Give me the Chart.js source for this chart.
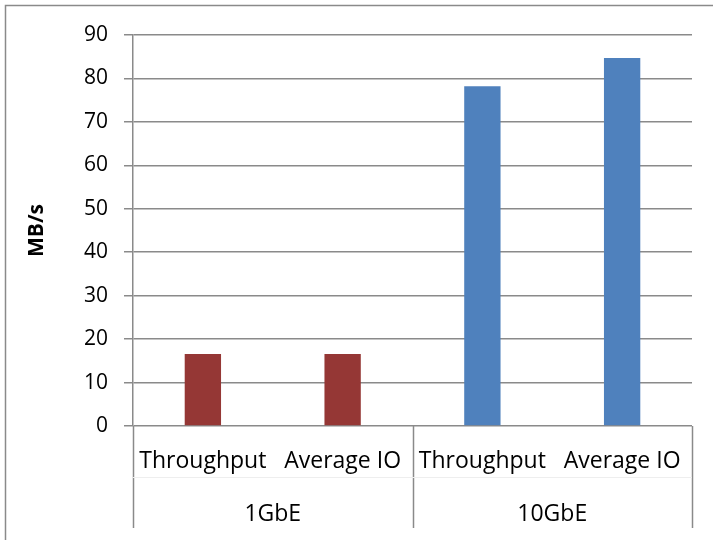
<!DOCTYPE html>
<html>
<head>
<meta charset="utf-8">
<script src="https://cdn.jsdelivr.net/npm/chart.js@4"></script>
<style>
html, body { margin: 0; padding: 0; background: #fff; }
#wrap { width: 713px; height: 540px; }
</style>
</head>
<body>
<div id="wrap"><canvas id="chart"></canvas></div>
<script>
// Data
const groups = ['1GbE', '10GbE'];
const metrics = ['Throughput', 'Average IO'];
const throughput = [16.6, 78.2];
const averageIO = [16.6, 84.7];
const groupColors = ['#953735', '#4F81BD'];
const yMax = 90;
const yStep = 10;

// flatten groups -> one bar per metric
const labels = [];
const values = [];
const colors = [];
groups.forEach((g, i) => {
    labels.push(...metrics);
    values.push(throughput[i], averageIO[i]);
    colors.push(groupColors[i], groupColors[i]);
});

const gridColor = '#8a8a8a';
const fontFamily = '"Open Sans", sans-serif';

// outer frame of the chart box
const framePlugin = {
    id: 'frame',
    beforeDraw(chart) {
        const ctx = chart.ctx;
        ctx.save();
        ctx.strokeStyle = '#8a8a8a';
        ctx.lineWidth = 1.5;
        ctx.strokeRect(5.5, 5.5, chart.width + 20, chart.height + 20);
        ctx.restore();
    }
};

// vertical separators between category groups + faint level divider
const groupLinesPlugin = {
    id: 'groupLines',
    afterDraw(chart) {
        const x = chart.scales.x;
        const x2 = chart.scales.x2;
        const ctx = chart.ctx;
        const top = chart.chartArea.bottom;
        const bottom = x2.bottom;
        const per = metrics.length;
        const xs = [x.left, x.right];
        for (let i = 1; i < groups.length; i++) {
            xs.push((x.getPixelForValue(i * per - 1) + x.getPixelForValue(i * per)) / 2);
        }
        ctx.save();
        ctx.strokeStyle = gridColor;
        ctx.lineWidth = 1.5;
        xs.forEach(px => {
            ctx.beginPath();
            ctx.moveTo(Math.round(px) + 0.5, top);
            ctx.lineTo(Math.round(px) + 0.5, bottom);
            ctx.stroke();
        });
        ctx.strokeStyle = '#eeeeee';
        ctx.lineWidth = 1;
        ctx.beginPath();
        ctx.moveTo(x.left, Math.round(x.bottom) + 0.5);
        ctx.lineTo(x.right, Math.round(x.bottom) + 0.5);
        ctx.stroke();
        ctx.restore();
    }
};

const ctx = document.getElementById('chart').getContext('2d');
const chart = new Chart(ctx, {
    type: 'bar',
    data: {
        labels: labels,
        datasets: [{
            data: values,
            backgroundColor: colors,
            borderWidth: 0,
            barPercentage: 0.26,
            categoryPercentage: 1.0
        }]
    },
    options: {
        responsive: true,
        maintainAspectRatio: false,
        animation: false,
        layout: { padding: { top: 35, right: 21, bottom: 12, left: 18 } },
        plugins: {
            legend: { display: false },
            tooltip: { enabled: false }
        },
        scales: {
            x: {
                type: 'category',
                position: 'bottom',
                grid: { display: false, drawTicks: false },
                border: { display: false },
                ticks: {
                    color: '#000',
                    font: { family: fontFamily, size: 23 },
                    padding: 22,
                    maxRotation: 0,
                    autoSkip: false
                },
                afterFit(scale) { scale.height = 51; }
            },
            x2: {
                type: 'category',
                position: 'bottom',
                labels: groups,
                offset: true,
                grid: { display: false, drawTicks: false },
                border: { display: false },
                ticks: {
                    color: '#000',
                    font: { family: fontFamily, size: 23 },
                    padding: 24,
                    maxRotation: 0
                },
                afterFit(scale) { scale.height = 51; }
            },
            y: {
                min: 0,
                max: yMax,
                ticks: {
                    stepSize: yStep,
                    color: '#000',
                    font: { family: fontFamily, size: 21 },
                    padding: 16
                },
                grid: {
                    color: gridColor,
                    lineWidth: 1.5,
                    tickLength: 9
                },
                border: { color: gridColor, width: 1.5 },
                title: {
                    display: true,
                    text: 'MB/s',
                    color: '#000',
                    font: { family: fontFamily, size: 21, weight: 'bold' },
                    padding: 6
                },
                afterFit(scale) { scale.width = 115; }
            }
        }
    },
    plugins: [framePlugin, groupLinesPlugin]
});
</script>
</body>
</html>
